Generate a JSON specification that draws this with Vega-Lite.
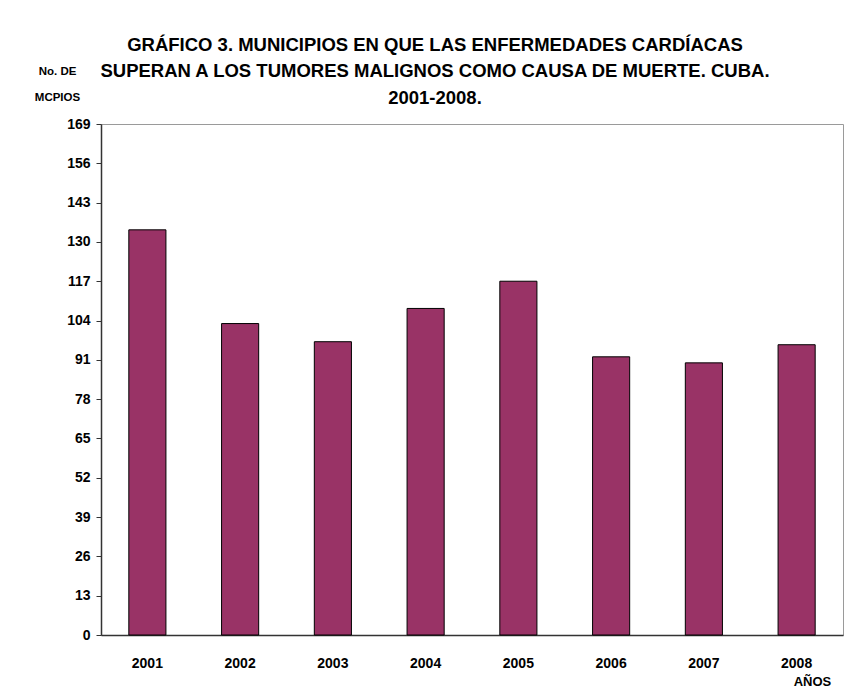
{
  "$schema": "https://vega.github.io/schema/vega-lite/v6.json",
  "width": 742,
  "height": 511,
  "autosize": {"type": "none"},
  "padding": {"left": 101, "top": 124, "right": 3, "bottom": 55},
  "background": "white",
  "title": {
    "text": ["GRÁFICO 3. MUNICIPIOS EN QUE LAS ENFERMEDADES CARDÍACAS", "SUPERAN A LOS TUMORES MALIGNOS COMO CAUSA DE MUERTE. CUBA.", "2001-2008."],
    "anchor": "middle",
    "frame": "group",
    "dx": -37,
    "dy": 54,
    "offset": 12,
    "font": "Liberation Sans",
    "fontSize": 18.5,
    "fontWeight": "bold",
    "color": "#000000",
    "lineHeight": 26.5
  },
  "data": {
    "values": [
      {"anio": "2001", "valor": 134},
      {"anio": "2002", "valor": 103},
      {"anio": "2003", "valor": 97},
      {"anio": "2004", "valor": 108},
      {"anio": "2005", "valor": 117},
      {"anio": "2006", "valor": 92},
      {"anio": "2007", "valor": 90},
      {"anio": "2008", "valor": 96}
    ]
  },
  "mark": {"type": "bar", "color": "#993366", "stroke": "#000000", "strokeWidth": 1},
  "encoding": {
    "x": {
      "field": "anio",
      "type": "ordinal",
      "scale": {"paddingInner": 0.6, "paddingOuter": 0.3},
      "axis": {
        "title": "AÑOS",
        "titleX": 711,
        "titleY": 46,
        "titleAlign": "center",
        "titleBaseline": "middle",
        "titleFont": "Liberation Sans",
        "titleFontSize": 13,
        "titleFontWeight": "bold",
        "titleColor": "#000000",
        "labelAngle": 0,
        "labelPadding": 21,
        "labelFont": "Liberation Sans",
        "labelFontSize": 14,
        "labelFontWeight": "bold",
        "labelColor": "#000000",
        "ticks": false,
        "domainColor": "#333333",
        "domainWidth": 1.5
      }
    },
    "y": {
      "field": "valor",
      "type": "quantitative",
      "scale": {"domain": [0, 169], "nice": false},
      "axis": {
        "values": [0, 13, 26, 39, 52, 65, 78, 91, 104, 117, 130, 143, 156, 169],
        "grid": false,
        "title": ["No. DE", "MCPIOS"],
        "titleAngle": 0,
        "titleX": -44,
        "titleY": -59,
        "titleAlign": "center",
        "titleBaseline": "top",
        "titleLineHeight": 26,
        "titleFont": "Liberation Sans",
        "titleFontSize": 11.5,
        "titleFontWeight": "bold",
        "titleColor": "#000000",
        "labelFont": "Liberation Sans",
        "labelFontSize": 14,
        "labelFontWeight": "bold",
        "labelColor": "#000000",
        "labelPadding": 6,
        "tickSize": 5,
        "tickColor": "#333333",
        "domainColor": "#333333",
        "domainWidth": 1.5
      }
    }
  },
  "config": {
    "view": {"stroke": "#9a9a9a", "strokeWidth": 1}
  }
}
